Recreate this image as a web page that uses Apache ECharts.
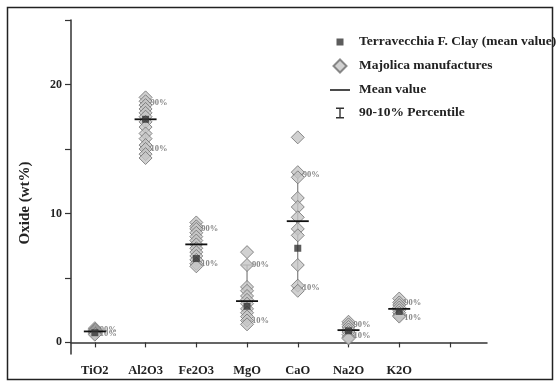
<!DOCTYPE html>
<html>
<head>
<meta charset="utf-8">
<script src="https://cdn.jsdelivr.net/npm/echarts@6/dist/echarts.min.js"></script>
<style>
  html, body { margin: 0; padding: 0; background: #fff; }
  #chart { width: 560px; height: 382px; }
</style>
</head>
<body>
<div id="chart"></div>
<script>
const oxides = ["TiO2", "Al2O3", "Fe2O3", "MgO", "CaO", "Na2O", "K2O"];

// Majolica manufactures, one list per oxide (wt%)
const majolica = [
  [1.1, 1.0, 0.9, 0.8, 0.7, 0.6],
  [19.0, 18.7, 18.4, 18.1, 17.8, 17.5, 17.1, 16.7, 16.2, 15.8, 15.3, 15.0, 14.6, 14.3],
  [9.3, 9.0, 8.8, 8.5, 8.2, 7.9, 7.6, 7.3, 7.0, 6.7, 6.4, 6.1, 5.9],
  [7.0, 6.0, 4.3, 4.0, 3.6, 3.3, 3.0, 2.6, 2.3, 2.0, 1.7, 1.4],
  [15.9, 13.2, 12.8, 11.2, 10.5, 9.7, 8.8, 8.3, 6.0, 4.4, 4.0],
  [1.6, 1.4, 1.2, 1.0, 0.8, 0.6, 0.4, 0.3],
  [3.4, 3.1, 2.9, 2.7, 2.5, 2.3, 2.1, 2.0],
];
const terravecchia = [0.75, 17.3, 6.5, 2.8, 7.3, 0.9, 2.4];
const meanValue = [0.85, 17.3, 7.6, 3.2, 9.4, 0.95, 2.6];
const p90 = [1.0, 18.6, 8.8, 6.0, 13.0, 1.4, 3.1];
const p10 = [0.7, 15.0, 6.1, 1.7, 4.2, 0.5, 1.9];

const xTicks = [1, 2, 3, 4, 5, 6, 7, 8];
const yTicks = [0, 5, 10, 15, 20, 25];
const yLabels = [0, 10, 20];

const serif = "'Liberation Serif', 'DejaVu Serif', serif";

const majolicaData = [];
majolica.forEach((vals, i) => vals.forEach(v => majolicaData.push([i + 1, v])));

const chart = echarts.init(document.getElementById("chart"));

const option = {
  backgroundColor: "#fff",
  animation: false,
  grid: { left: 71, right: 73, top: 20, bottom: 28 },
  graphic: [
    {
      type: "rect",
      shape: { x: 7.5, y: 7.5, width: 545, height: 372 },
      style: { fill: "none", stroke: "#222", lineWidth: 1.5 },
      silent: true,
    },
  ],
  legend: {
    orient: "vertical",
    left: 329,
    top: 35,
    padding: 0,
    itemWidth: 24,
    itemHeight: 14,
    itemGap: 9,
    selectedMode: false,
    textStyle: { fontFamily: serif, fontWeight: "bold", fontSize: 13.5, color: "#222" },
    data: [
      { name: "Terravecchia F. Clay (mean value)", icon: "path://M0,0L0,0.01ZM24,14L24,13.99ZM6.5,3.5h7v7h-7Z", itemStyle: { borderWidth: 0 } },
      { name: "Majolica manufactures", icon: "path://M0,0L0,0.01ZM24,14L24,13.99ZM10,0.5L16.5,7L10,13.5L3.5,7Z" },
      { name: "Mean value", icon: "path://M0,0L0,0.01ZM24,14L24,13.99ZM0,6.2h20v1.6h-20Z" },
      { name: "90-10% Percentile", icon: "path://M0,0L0,0.01ZM24,14L24,13.99ZM6,1.5h8v1.4h-3.3v8.2h3.3v1.4h-8v-1.4h3.3v-8.2h-3.3Z" },
    ],
  },
  xAxis: {
    type: "value",
    min: 0.53,
    max: 8.73,
    splitLine: { show: false },
    axisLine: { lineStyle: { color: "#333", width: 1.5 } },
    axisTick: { customValues: xTicks, length: 5, lineStyle: { color: "#333", width: 1.2 } },
    axisLabel: {
      customValues: xTicks.slice(0, oxides.length),
      formatter: v => oxides[Math.round(v) - 1] || "",
      fontFamily: serif,
      fontWeight: "bold",
      fontSize: 12.5,
      color: "#222",
      margin: 10,
    },
  },
  yAxis: {
    type: "value",
    min: -0.9,
    max: 25,
    name: "Oxide (wt%)",
    nameLocation: "middle",
    nameGap: 38,
    nameTextStyle: { fontFamily: serif, fontWeight: "bold", fontSize: 15, color: "#222", padding: [0, 32, 0, 0] },
    splitLine: { show: false },
    axisLine: { show: true, lineStyle: { color: "#333", width: 1.5 } },
    axisTick: { customValues: yTicks, length: 6, lineStyle: { color: "#333", width: 1.2 } },
    axisLabel: {
      customValues: yLabels,
      fontFamily: serif,
      fontWeight: "bold",
      fontSize: 12,
      color: "#222",
      margin: 9,
    },
  },
  series: [
    {
      name: "90-10% Percentile",
      type: "custom",
      z: 1,
      itemStyle: { color: "#333" },
      data: oxides.map((_, i) => [i + 1, p10[i], p90[i]]),
      renderItem: (params, api) => {
        const lo = api.coord([api.value(0), api.value(1)]);
        const hi = api.coord([api.value(0), api.value(2)]);
        const line = { stroke: "#666", lineWidth: 1 };
        const label = (txt, p) => ({
          type: "text",
          z2: 20,
          style: {
            text: txt, x: p[0] + 5, y: p[1], verticalAlign: "middle",
            fontFamily: serif, fontWeight: "bold", fontSize: 8.5, fill: "#888",
          },
        });
        return {
          type: "group",
          children: [
            { type: "line", shape: { x1: lo[0], y1: lo[1], x2: hi[0], y2: hi[1] }, style: line },
            { type: "line", shape: { x1: hi[0] - 5, y1: hi[1], x2: hi[0] + 5, y2: hi[1] }, style: line },
            { type: "line", shape: { x1: lo[0] - 5, y1: lo[1], x2: lo[0] + 5, y2: lo[1] }, style: line },
            label("90%", hi),
            label("10%", lo),
          ],
        };
      },
    },
    {
      name: "Majolica manufactures",
      type: "scatter",
      z: 2,
      symbol: "diamond",
      symbolSize: 13,
      itemStyle: { color: "#c6c6c6", borderColor: "#6e6e6e", borderWidth: 1 },
      data: majolicaData,
    },
    {
      name: "Mean value",
      type: "custom",
      z: 3,
      itemStyle: { color: "#111" },
      data: oxides.map((_, i) => [i + 1, meanValue[i]]),
      renderItem: (params, api) => {
        const p = api.coord([api.value(0), api.value(1)]);
        return {
          type: "line",
          shape: { x1: p[0] - 11, y1: p[1], x2: p[0] + 11, y2: p[1] },
          style: { stroke: "#111", lineWidth: 1.8 },
        };
      },
    },
    {
      name: "Terravecchia F. Clay (mean value)",
      type: "scatter",
      z: 4,
      symbol: "rect",
      symbolSize: 7,
      itemStyle: { color: "#333" },
      data: terravecchia.map((v, i) => [i + 1, v]),
    },
  ],
};

chart.setOption(option);
</script>
</body>
</html>
